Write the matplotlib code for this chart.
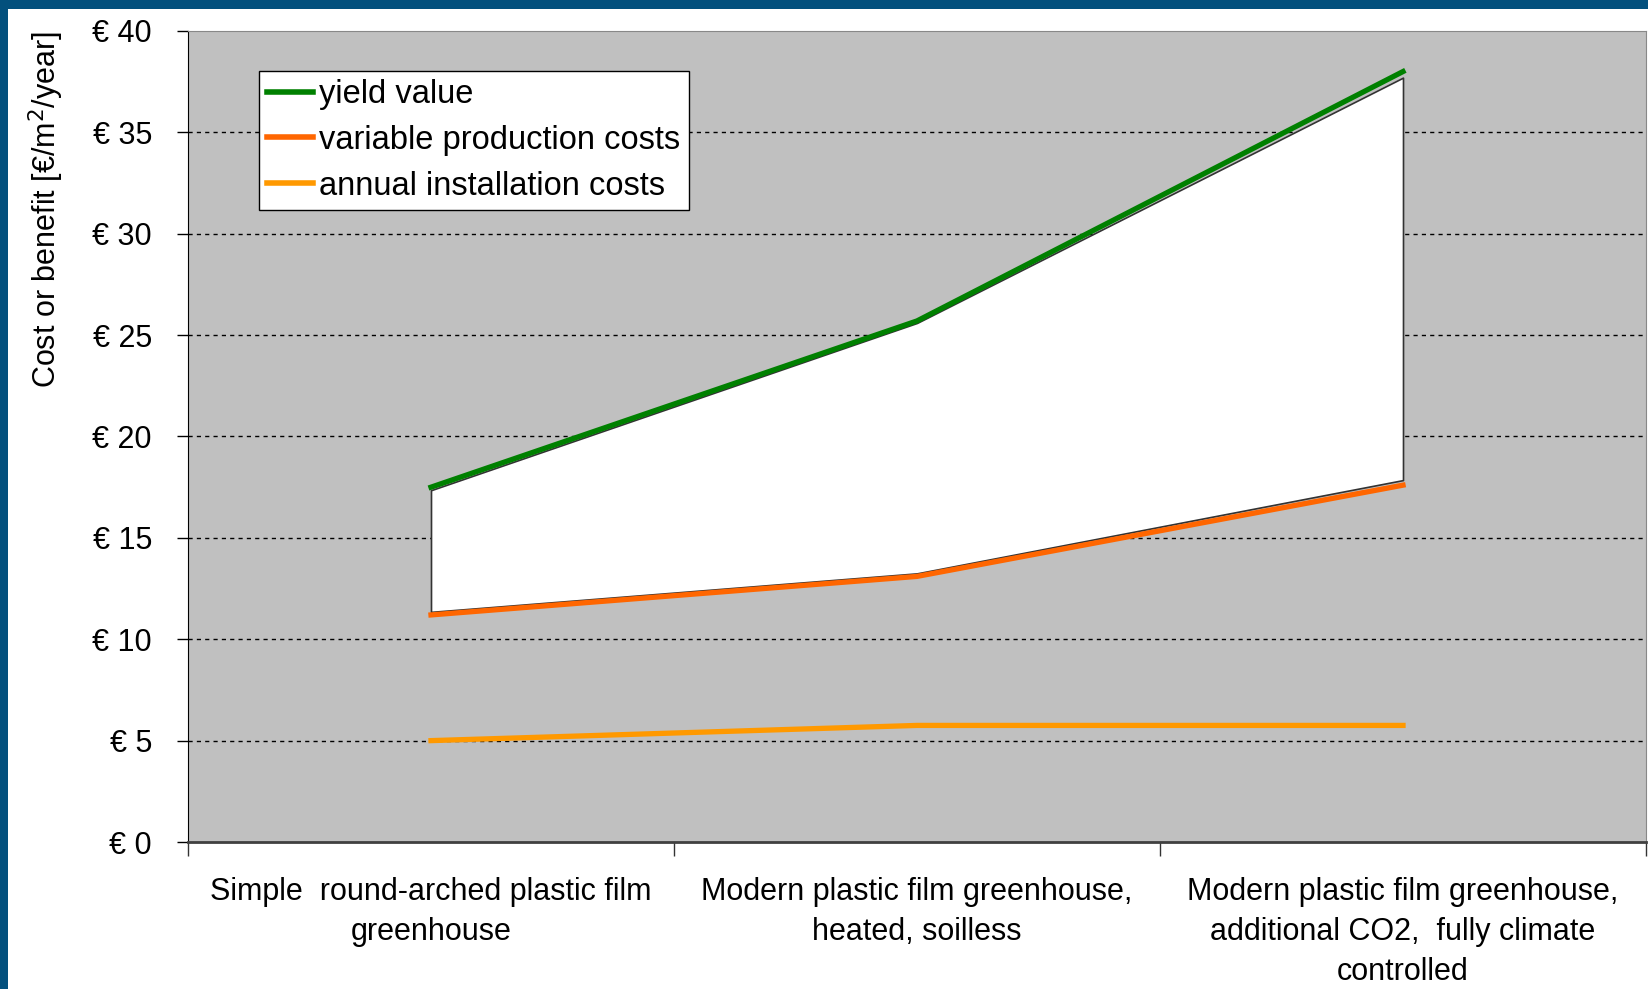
import matplotlib
matplotlib.use('Agg')
import matplotlib.pyplot as plt
from matplotlib.patches import Rectangle

plt.rcParams['font.family'] = ['Liberation Sans', 'DejaVu Sans']

# greenhouse types on the x axis
categories = ['Simple  round-arched plastic film\ngreenhouse',
              'Modern plastic film greenhouse,\nheated, soilless',
              'Modern plastic film greenhouse,\nadditional CO2,  fully climate\ncontrolled']

# values in euro per m2 per year
yield_value = [17.5, 25.7, 38.0]
variable_costs = [11.2, 13.1, 17.6]
installation_costs = [5.0, 5.75, 5.75]

# white margin band between the two lines (slightly inset from the lines)
band_top = [17.35, 25.6, 37.7]
band_bottom = [11.35, 13.25, 17.85]

yticks = [0, 5, 10, 15, 20, 25, 30, 35, 40]
ytick_labels = ['€ %d' % v for v in yticks]

GRAY_BG = '#c0c0c0'
BORDER = '#03507d'

fig = plt.figure(figsize=(16.48, 9.89), dpi=100)
fig.patch.set_facecolor('white')
ax = fig.add_axes([188 / 1648, 147 / 989, 1458 / 1648, 811 / 989])
ax.set_facecolor(GRAY_BG)

x = list(range(len(categories)))

ax.fill_between(x, band_bottom, band_top, facecolor='white',
                edgecolor='#333333', linewidth=1.2, zorder=2)
ax.plot(x, yield_value, color='#008000', lw=3.8, label='yield value', zorder=3)
ax.plot(x, variable_costs, color='#ff6600', lw=3.8, label='variable production costs', zorder=3)
ax.plot(x, installation_costs, color='#ff9900', lw=3.8, label='annual installation costs', zorder=3)

ax.set_xlim(-0.5, len(categories) - 0.5)
ax.set_ylim(0, 40)
ax.set_yticks(yticks)
ax.set_yticklabels(ytick_labels, fontsize=22)
ax.set_xticks(x)
ax.set_xticklabels(categories, fontsize=22, linespacing=1.45)
ax.set_xticks([i - 0.5 for i in range(len(categories) + 1)], minor=True)
ax.tick_params(axis='x', which='major', length=0, pad=25)
ax.tick_params(axis='x', which='minor', length=10, width=1, color='#333333')
ax.tick_params(axis='y', length=8, width=1, pad=18)

for v in yticks[1:-1]:
    ax.axhline(v, color='black', lw=1, ls=(0, (3, 3)), zorder=1)

ax.spines['left'].set_color('black')
ax.spines['bottom'].set_color('#404040')
ax.spines['bottom'].set_linewidth(2)
ax.spines['top'].set_color('#888888')
ax.spines['right'].set_color('#888888')

ax.set_ylabel('Cost or benefit [€/m$^2$/year]', fontsize=22)
ax.yaxis.set_label_coords((66 - 188) / 1458, (842 - 209) / 811)

leg = ax.legend(loc='upper left', bbox_to_anchor=(71 / 1458, (842 - 71) / 811),
                borderaxespad=0, fontsize=23.5, frameon=True, fancybox=False,
                handlelength=1.4, handletextpad=0.2, labelspacing=0.45,
                borderpad=0.25)
leg.get_frame().set_edgecolor('black')
leg.get_frame().set_linewidth(1)
leg.get_frame().set_facecolor('white')
leg.get_frame().set_alpha(1)
for line in leg.get_lines():
    line.set_linewidth(4)

# dark blue border on the left and top
fig.add_artist(Rectangle((0, 0), 8 / 1648, 1, transform=fig.transFigure,
                         facecolor=BORDER, edgecolor='none'))
fig.add_artist(Rectangle((0, 1 - 9 / 989), 1, 9 / 989, transform=fig.transFigure,
                         facecolor=BORDER, edgecolor='none'))

fig.savefig('out.png', dpi=100)
